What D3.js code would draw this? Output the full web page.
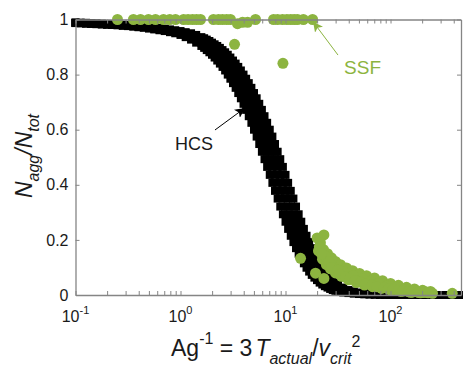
<!DOCTYPE html>
<html>
<head>
<meta charset="utf-8">
<script src="https://cdn.jsdelivr.net/npm/d3@7"></script>
<style>
  body { margin: 0; background: #fff; }
  svg text { font-family: "Liberation Sans", Arial, Helvetica, sans-serif; fill: #1a1a1a; }
</style>
</head>
<body>
<div id="chart"></div>
<script>
// HCS: four runs on one x grid (finer where the curves drop)
const hcsX = [0.1, 0.112, 0.126, 0.141, 0.158, 0.178, 0.2, 0.224, 0.251, 0.282, 0.316, 0.355, 0.398, 0.447, 0.501, 0.562, 0.631, 0.708, 0.794, 0.891,
  1, 1.12, 1.26, 1.41, 1.58,
  1.679, 1.778, 1.884, 1.995, 2.113, 2.239, 2.371, 2.512, 2.661, 2.818, 2.985, 3.162, 3.350, 3.548, 3.758, 3.981, 4.217, 4.467, 4.732, 5.012,
  5.309, 5.623, 5.957, 6.310, 6.683, 7.079, 7.499, 7.943, 8.414, 8.913, 9.441, 10, 10.59, 11.22, 11.89, 12.59, 13.34, 14.13, 14.96, 15.85,
  16.79, 17.78, 18.84, 19.95, 21.13, 22.39, 23.71, 25.12, 26.61, 28.18, 29.85, 31.62,
  35.48, 39.81, 44.67, 50.12, 56.23, 63.1, 70.79, 79.43, 89.13, 100, 112.2, 125.9, 141.3, 158.5, 177.8, 199.5, 223.9, 251.2, 281.8, 316.2,
  354.8, 398.1, 446.7];

const hcsRunA = [.987, .986, .985, .984, .983, .982, .981, .980, .979, .977, .976, .974, .972, .970, .967, .964, .961, .958, .954, .950,
  .944, .936, .927, .916, .904,
  .897, .889, .881, .872, .862, .851, .840, .828, .815, .800, .785, .769, .752, .733, .714, .694, .672, .649, .625, .600,
  .575, .548, .520, .493, .465, .436, .407, .378, .350, .321, .293, .266, .240, .215, .192, .170, .150, .132, .115, .099,
  .085, .073, .063, .054, .045, .038, .032, .027, .022, .018, .015, .013,
  .009, .007, .005, .0035, .0025, .002, .0015, .001, .001, 0, 0, 0, 0, 0, 0, 0, 0, 0, 0, 0,
  0, 0, 0];
const hcsRunB = [.988, .987, .986, .985, .984, .983, .982, .981, .980, .979, .977, .976, .974, .972, .970, .967, .964, .961, .958, .954,
  .950, .944, .936, .927, .916,
  .910, .904, .897, .889, .881, .872, .862, .851, .840, .828, .815, .800, .785, .769, .752, .733, .714, .694, .672, .649,
  .625, .600, .575, .548, .520, .493, .465, .436, .407, .378, .350, .321, .293, .266, .240, .215, .192, .170, .150, .132,
  .115, .099, .085, .073, .063, .054, .045, .038, .032, .027, .022, .018,
  .013, .009, .007, .005, .0035, .0025, .002, .0015, .001, .001, 0, 0, 0, 0, 0, 0, 0, 0, 0, 0,
  0, 0, 0];
const hcsRunC = [.988, .988, .987, .986, .985, .984, .983, .982, .981, .980, .979, .977, .976, .974, .972, .970, .967, .964, .961, .958,
  .954, .950, .944, .936, .927,
  .922, .916, .910, .904, .897, .889, .881, .872, .862, .851, .840, .828, .815, .800, .785, .769, .752, .733, .714, .694,
  .672, .649, .625, .600, .575, .548, .520, .493, .465, .436, .407, .378, .350, .321, .293, .266, .240, .215, .192, .170,
  .150, .132, .115, .099, .085, .073, .063, .054, .045, .038, .032, .027,
  .018, .013, .009, .007, .005, .0035, .0025, .002, .0015, .001, .001, 0, 0, 0, 0, 0, 0, 0, 0, 0,
  0, 0, 0];
const hcsRunD = [.989, .988, .988, .987, .986, .985, .984, .983, .982, .981, .980, .979, .977, .976, .974, .972, .970, .967, .964, .961,
  .958, .954, .950, .944, .936,
  .932, .927, .922, .916, .910, .904, .897, .889, .881, .872, .862, .851, .840, .828, .815, .800, .785, .769, .752, .733,
  .714, .694, .672, .649, .625, .600, .575, .548, .520, .493, .465, .436, .407, .378, .350, .321, .293, .266, .240, .215,
  .192, .170, .150, .132, .115, .099, .085, .073, .063, .054, .045, .038,
  .027, .018, .013, .009, .007, .005, .0035, .0025, .002, .0015, .001, .001, 0, 0, 0, 0, 0, 0, 0, 0,
  0, 0, 0];

// SSF points
const ssfX = [0.251, 0.356, 0.416, 0.495, 0.578, 0.689, 0.79, 0.896, 1.07, 1.18, 1.30, 1.42, 1.55, 2.06, 2.3, 2.51, 2.75, 2.99, 3.49, 3.9, 4.35, 5.18,
  7.69, 8.4, 9.36, 10.3, 11.2, 12.1, 13.0, 14.8, 18.1,
  3.27, 9.45,
  13.9, 23.2, 19.3, 23.2,
  20.0, 21.5, 23.0, 25.1, 27.4, 29.9, 33.4, 38.1, 43.5, 50.7, 59.1, 70.4, 83.9, 100, 119, 142, 169, 202, 240,
  20.6, 22.5, 24.5, 26.8, 29.9, 34.1, 39.8, 47.4, 56.5, 67.4, 82, 100, 125, 155, 193, 251, 387,
  24.0, 28.6, 35.7, 44.5, 54.1, 64.6, 76.9, 91.6, 112, 136, 166, 215,
  21, 22, 26, 27.5, 31.5, 33, 37, 41, 46, 52, 58, 66, 74, 87, 95, 106, 118, 131, 148, 160, 185, 208, 228];
const ssfY = [1, 1, 1, 1, 1, 1, 1, 1, 1, 1, 1, 1, 1, 1, 1, 1, 1, 1, 0.985, 0.99, 0.99, 1,
  1, 1, 1, 1, 1, 1, 1, 1, 1,
  0.91, 0.841,
  0.133, 0.218, 0.079, 0.06,
  0.207, 0.19, 0.165, 0.15, 0.135, 0.122, 0.11, 0.098, 0.088, 0.078, 0.07, 0.062, 0.052, 0.042, 0.035, 0.028, 0.022, 0.017, 0.013,
  0.16, 0.13, 0.11, 0.095, 0.08, 0.068, 0.055, 0.045, 0.036, 0.03, 0.024, 0.018, 0.013, 0.01, 0.008, 0.006, 0.006,
  0.14, 0.1, 0.085, 0.07, 0.058, 0.05, 0.042, 0.033, 0.026, 0.02, 0.016, 0.012,
  0.175, 0.15, 0.12, 0.1, 0.09, 0.075, 0.065, 0.06, 0.052, 0.047, 0.04, 0.036, 0.03, 0.027, 0.022, 0.02, 0.016, 0.014, 0.012, 0.01, 0.009, 0.009, 0.008];

const yTicks = [0, 0.2, 0.4, 0.6, 0.8, 1];
const yTickLabels = ['0', '0.2', '0.4', '0.6', '0.8', '1'];
const xMajor = [0.1, 1, 10, 100];
const xMajorExp = ['-1', '0', '1', '2'];

// annotation anchors, data units
const hcsLabel = { x: 0.887, y: 0.526, text: 'HCS' };
const hcsArrow = { x1: 2.13, y1: 0.599, x2: 4.11, y2: 0.679 };
const ssfLabel = { x: 36.1, y: 0.802, text: 'SSF' };
const ssfArrow = { x1: 31.6, y1: 0.871, x2: 18.3, y2: 0.992 };

const width = 463;
const height = 369;
const green = '#8cb440';
const axisGray = '#858585';

const svg = d3.select('#chart')
  .append('svg')
  .attr('width', width)
  .attr('height', height);

const x = d3.scaleLog().domain([0.1, 469]).range([75.5, 461]);
const y = d3.scaleLinear().domain([0, 1]).range([295, 19.5]);

const defs = svg.append('defs');
defs.append('clipPath').attr('id', 'plotClip')
  .append('rect')
  .attr('x', 75.5).attr('y', 10).attr('width', 461 - 75.5).attr('height', 295 - 10);

// HCS runs
const runs = [hcsRunA, hcsRunB, hcsRunC, hcsRunD];
const line = d3.line().x(d => x(d[0])).y(d => y(d[1]));
const inside = d => d[0] <= x.domain()[1];

runs.forEach(run => {
  const pts = hcsX.map((v, i) => [v, run[i]]);
  svg.append('path')
    .datum(pts)
    .attr('clip-path', 'url(#plotClip)')
    .attr('fill', 'none')
    .attr('stroke', '#000')
    .attr('stroke-width', 0.8)
    .attr('d', line);
  svg.append('g').selectAll('rect')
    .data(pts.filter(inside))
    .enter()
    .append('rect')
    .attr('x', d => x(d[0]) - 4)
    .attr('y', d => y(d[1]) - 4)
    .attr('width', 8)
    .attr('height', 8)
    .attr('fill', '#000');
});

// SSF
svg.append('g').selectAll('circle')
  .data(ssfX.map((v, i) => [v, ssfY[i]]).filter(inside))
  .enter()
  .append('circle')
  .attr('cx', d => x(d[0]))
  .attr('cy', d => y(d[1]))
  .attr('r', 5.5)
  .attr('fill', green);

// axes (ticks point inward)
const styleAxis = g => {
  g.select('.domain').attr('stroke', axisGray).attr('stroke-width', 1.3);
  g.selectAll('.tick line').attr('stroke', axisGray).attr('stroke-width', 1);
};

svg.append('g')
  .attr('transform', 'translate(0,295)')
  .call(d3.axisBottom(x).tickSizeInner(-4).tickSizeOuter(0).tickFormat(''))
  .call(styleAxis);
svg.append('g')
  .attr('transform', 'translate(0,19.5)')
  .call(d3.axisTop(x).tickSizeInner(-4).tickSizeOuter(0).tickFormat(''))
  .call(styleAxis);
svg.append('g')
  .attr('transform', 'translate(75.5,0)')
  .call(d3.axisLeft(y).tickValues(yTicks).tickSizeInner(-4).tickSizeOuter(0).tickPadding(7)
    .tickFormat((d, i) => yTickLabels[i]))
  .call(styleAxis)
  .selectAll('text')
  .style('font-size', '16px')
  .attr('fill', '#1a1a1a');
svg.append('g')
  .attr('transform', 'translate(461,0)')
  .call(d3.axisRight(y).tickValues(yTicks).tickSizeInner(-4).tickSizeOuter(0).tickFormat(''))
  .call(styleAxis);

// x tick labels 10^n
const xl = svg.append('g').selectAll('text')
  .data(xMajor)
  .enter()
  .append('text')
  .attr('x', d => x(d))
  .attr('y', 322)
  .attr('text-anchor', 'middle')
  .style('font-size', '16px');
xl.append('tspan').text('10');
xl.append('tspan').attr('dy', -8).style('font-size', '11px').text((d, i) => xMajorExp[i]);

// x title
const xt = svg.append('text')
  .attr('x', 171)
  .attr('y', 356)
  .style('font-size', '23px');
xt.append('tspan').text('Ag');
xt.append('tspan').attr('dy', -12).style('font-size', '16px').text('-1');
xt.append('tspan').attr('dy', 12).text('\u00a0=\u00a03');
xt.append('tspan').attr('dx', 3).style('font-style', 'italic').text('T');
xt.append('tspan').attr('dy', 8).style('font-size', '16px').style('font-style', 'italic').text('actual');
xt.append('tspan').attr('dy', -8).text('/');
xt.append('tspan').style('font-style', 'italic').text('v');
xt.append('tspan').attr('dy', 8).style('font-size', '16px').style('font-style', 'italic').text('crit');
xt.append('tspan').attr('dy', -17).style('font-size', '16px').text('2');

// y title
const yt = svg.append('text')
  .attr('transform', 'translate(32,156) rotate(-90)')
  .attr('text-anchor', 'middle')
  .style('font-size', '23px')
  .style('font-style', 'italic');
yt.append('tspan').text('N');
yt.append('tspan').attr('dy', 7).style('font-size', '16px').text('agg');
yt.append('tspan').attr('dy', -7).text('/N');
yt.append('tspan').attr('dy', 7).style('font-size', '16px').text('tot');

// annotations
[['headBlack', '#000'], ['headGreen', green]].forEach(([id, c]) => {
  defs.append('marker')
    .attr('id', id)
    .attr('viewBox', '0 0 10 10')
    .attr('refX', 10).attr('refY', 5)
    .attr('markerWidth', 10).attr('markerHeight', 10)
    .attr('markerUnits', 'userSpaceOnUse')
    .attr('orient', 'auto')
    .append('path')
    .attr('d', 'M0,0 L10,5 L0,10 L2.5,5 Z')
    .attr('fill', c);
});

svg.append('line')
  .attr('x1', x(hcsArrow.x1)).attr('y1', y(hcsArrow.y1))
  .attr('x2', x(hcsArrow.x2)).attr('y2', y(hcsArrow.y2))
  .attr('stroke', '#000').attr('stroke-width', 1)
  .attr('marker-end', 'url(#headBlack)');
svg.append('text')
  .attr('x', x(hcsLabel.x)).attr('y', y(hcsLabel.y))
  .style('font-size', '18px')
  .text(hcsLabel.text);

svg.append('line')
  .attr('x1', x(ssfArrow.x1)).attr('y1', y(ssfArrow.y1))
  .attr('x2', x(ssfArrow.x2)).attr('y2', y(ssfArrow.y2))
  .attr('stroke', green).attr('stroke-width', 1)
  .attr('marker-end', 'url(#headGreen)');
svg.append('text')
  .attr('x', x(ssfLabel.x)).attr('y', y(ssfLabel.y))
  .style('font-size', '19px')
  .style('fill', green)
  .text(ssfLabel.text);
</script>
</body>
</html>
